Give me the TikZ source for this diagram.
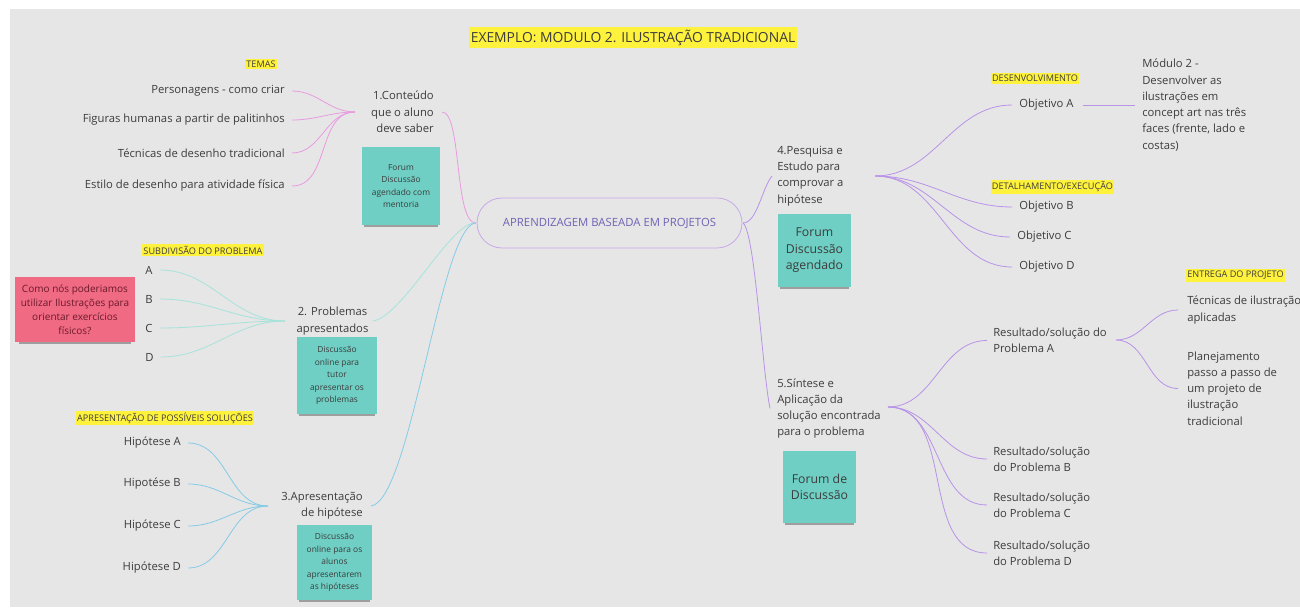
\documentclass[tikz,border=0pt]{standalone}
\usepackage{fontspec}
\setmainfont{Open Sans}
\usetikzlibrary{shadows}
\definecolor{bgc}{HTML}{E6E6E6}
\definecolor{txtc}{HTML}{3C3C3C}
\definecolor{hly}{HTML}{FFF23C}
\definecolor{notec}{HTML}{6FCFC4}
\definecolor{redn}{HTML}{F06A84}
\definecolor{redt}{HTML}{6B1A2A}
\definecolor{pinkc}{HTML}{E99AE0}
\definecolor{tealc}{HTML}{A6E3DA}
\definecolor{bluec}{HTML}{86CBE6}
\definecolor{purc}{HTML}{B893E8}
\definecolor{ctrb}{HTML}{C8A9E9}
\definecolor{ctrt}{HTML}{6F63B5}
\begin{document}
\begin{tikzpicture}[x=0.75pt,y=-0.75pt,
  txt/.style={inner sep=0pt, text=txtc, font=\fontsize{8.45}{12.2}\selectfont},
  hl/.style={fill=hly, text=txtc, inner xsep=1pt, inner ysep=1.5pt, font=\fontsize{6.85}{7.5}\selectfont},
  shad/.style={drop shadow={shadow xshift=0pt, shadow yshift=-3.5pt, opacity=0.4, fill=black!80, shadow scale=0.94}},
  note/.style={fill=notec, align=center, inner sep=1pt, text=txtc, shad},
  smallnote/.style={note, font=\fontsize{6.3}{9.4}\selectfont},
  bignote/.style={note, font=\fontsize{9.2}{12.4}\selectfont},
  pk/.style={draw=pinkc, line width=0.6pt},
  tl/.style={draw=tealc, line width=0.6pt},
  bl/.style={draw=bluec, line width=0.6pt},
  pu/.style={draw=purc, line width=0.6pt}
]
\useasboundingbox (0,0) rectangle (1300,609);
\fill[white] (0,0) rectangle (1300,609);
\fill[bgc] (10,9) rectangle (1300,607);

% title
\node[hl, font=\fontsize{10.4}{12}\selectfont, inner ysep=2pt] (title) at (633,37.5) {EXEMPLO: MODULO 2. ILUSTRAÇÃO TRADICIONAL};

% center
\node[draw=ctrb, line width=0.6pt, rounded corners=18.75pt, minimum width=198.75pt, minimum height=37.5pt,
  text=ctrt, font=\fontsize{8.5}{10}\selectfont] (c) at (609.5,223) {APRENDIZAGEM BASEADA EM PROJETOS};

% ---------- branch 1
\node[hl] (temas) at (261,64) {TEMAS};
\node[txt, anchor=east] (t1) at (285,91) {Personagens - como criar};
\node[txt, anchor=east] (t2) at (285,120) {Figuras humanas a partir de palitinhos};
\node[txt, anchor=east] (t3) at (285,153) {Técnicas de desenho tradicional};
\node[txt, anchor=east] (t4) at (285,186) {Estilo de desenho para atividade física};
\coordinate (j1) at (355,112);
\node[txt, anchor=east, align=right] (b1) at (434,112) {1.Conteúdo\\que o aluno\\deve saber};
\node[smallnote, minimum width=58.5pt, minimum height=58.5pt] (n1) at (401,186) {Forum\\Discussão\\agendado com\\mentoria};
\foreach \t in {t1,t2,t3,t4}
  \draw[pk] ([xshift=5.25pt]\t.east) to[out=0,in=180] (j1);
\draw[pk] ([xshift=6pt]b1.east) .. controls +(20,0) and +(-22,0) .. ([xshift=-0.5pt]c.west);

% ---------- branch 2
\node[hl] (sub) at (203,250) {SUBDIVISÃO DO PROBLEMA};
\node[txt, anchor=west] (pa) at (145,270) {A};
\node[txt, anchor=west] (pb) at (145,299) {B};
\node[txt, anchor=west] (pc) at (145,328) {C};
\node[txt, anchor=west] (pd) at (145,357) {D};
\node[fill=redn, text=redt, align=center, inner sep=1pt, minimum width=90pt, minimum height=48.75pt,
  font=\fontsize{7.5}{10.5}\selectfont, shad]
  (red) at (75,309.5) {Como nós poderiamos\\utilizar Ilustrações para\\orientar exercícios\\físicos?};
\coordinate (j2) at (285,321);
\node[txt, align=center] (b2) at (332.5,321) {2. Problemas\\apresentados};
\node[smallnote, minimum width=60pt, minimum height=57.75pt] (n2) at (337,375.5) {Discussão\\online para\\tutor\\apresentar os\\problemas};
\foreach \t in {pa,pb,pc,pd}
  \draw[tl] ([xshift=5.25pt]\t.east) to[out=0,in=180] (j2);
\draw[tl] ([xshift=3pt]b2.east) .. controls +(30,-4) and +(-25,-2) .. ([xshift=-0.5pt]c.west);

% ---------- branch 3
\node[hl] (apr) at (165,418) {APRESENTAÇÃO DE POSSÍVEIS SOLUÇÕES};
\node[txt, anchor=east] (h1) at (181,443) {Hipótese A};
\node[txt, anchor=east] (h2) at (181,484) {Hipotése B};
\node[txt, anchor=east] (h3) at (181,526) {Hipótese C};
\node[txt, anchor=east] (h4) at (181,568) {Hipótese D};
\coordinate (j3) at (268,506);
\node[txt, anchor=east, align=right] (b3) at (363,506) {3.Apresentação\\de hipótese};
\node[smallnote, minimum width=56.25pt, minimum height=56.25pt] (n3) at (334.5,562.5) {Discussão\\online para os\\alunos\\apresentarem\\as hipóteses};
\foreach \t in {h1,h2,h3,h4}
  \draw[bl] ([xshift=5.25pt]\t.east) to[out=0,in=180] (j3);
\draw[bl] ([xshift=6pt]b3.east) .. controls +(40,-5) and +(-35,0) .. ([xshift=-0.5pt]c.west);

% ---------- branch 4
\node[txt, anchor=west, align=left] (b4) at (777,176) {4.Pesquisa e\\Estudo para\\comprovar a\\hipótese};
\coordinate (j4) at (875,176);
\node[bignote, minimum width=54.75pt, minimum height=54.75pt] (n4) at (814.5,250.5) {Forum\\Discussão\\agendado};
\node[hl] (des) at (1035,78.5) {DESENVOLVIMENTO};
\node[hl] (det) at (1052.5,187) {DETALHAMENTO/EXECUÇÃO};
\node[txt, anchor=west] (oa) at (1019,105) {Objetivo A};
\node[txt, anchor=west] (ob) at (1019,207) {Objetivo B};
\node[txt, anchor=west] (oc) at (1017,237) {Objetivo C};
\node[txt, anchor=west] (od) at (1019,267) {Objetivo D};
\node[txt, anchor=west, align=left] (mod) at (1142,105) {Módulo 2 -\\Desenvolver as\\ilustrações em\\concept art nas três\\faces (frente, lado e\\costas)};
\draw[pu] ([xshift=0.5pt]c.east) .. controls +(14,0) and +(-10,12) .. ([xshift=-3.75pt]b4.west);
\foreach \t in {oa,ob,oc,od}
  \draw[pu] (j4) to[out=0,in=180] ([xshift=-5.25pt]\t.west);
\draw[pu] ([xshift=6.75pt]oa.east) -- ([xshift=-5.25pt]mod.west);

% ---------- branch 5
\node[txt, anchor=west, align=left] (b5) at (777,408.5) {5.Síntese e\\Aplicação da\\solução encontrada\\para o problema};
\coordinate (j5) at (888,407);
\node[bignote, minimum width=54.75pt, minimum height=54pt] (n5) at (819.5,487) {Forum de\\Discussão};
\node[hl] (ent) at (1235.5,275.5) {ENTREGA DO PROJETO};
\node[txt, anchor=west, align=left] (ra) at (993,340.5) {Resultado/solução do\\Problema A};
\node[txt, anchor=west, align=left] (rb) at (993,459) {Resultado/solução\\do Problema B};
\node[txt, anchor=west, align=left] (rc) at (993,505) {Resultado/solução\\do Problema C};
\node[txt, anchor=west, align=left] (rd) at (993,553) {Resultado/solução\\do Problema D};
\coordinate (j6) at (1116,340);
\node[txt, anchor=west, align=left] (tec) at (1187,310) {Técnicas de ilustração\\aplicadas};
\node[txt, anchor=west, align=left] (pla) at (1187,388.5) {Planejamento\\passo a passo de\\um projeto de\\ilustração\\tradicional};
\draw[pu] ([xshift=0.5pt]c.east) .. controls +(12,10) and +(-8,-40) .. ([xshift=-5.25pt]b5.west);
\foreach \t in {ra,rb,rc,rd}
  \draw[pu] (j5) to[out=0,in=180] ([xshift=-4.5pt]\t.west);
\draw[pu] (j6) to[out=0,in=180] ([xshift=-6.75pt]tec.west);
\draw[pu] (j6) to[out=0,in=180] ([xshift=-6.75pt]pla.west);
\end{tikzpicture}
\end{document}
